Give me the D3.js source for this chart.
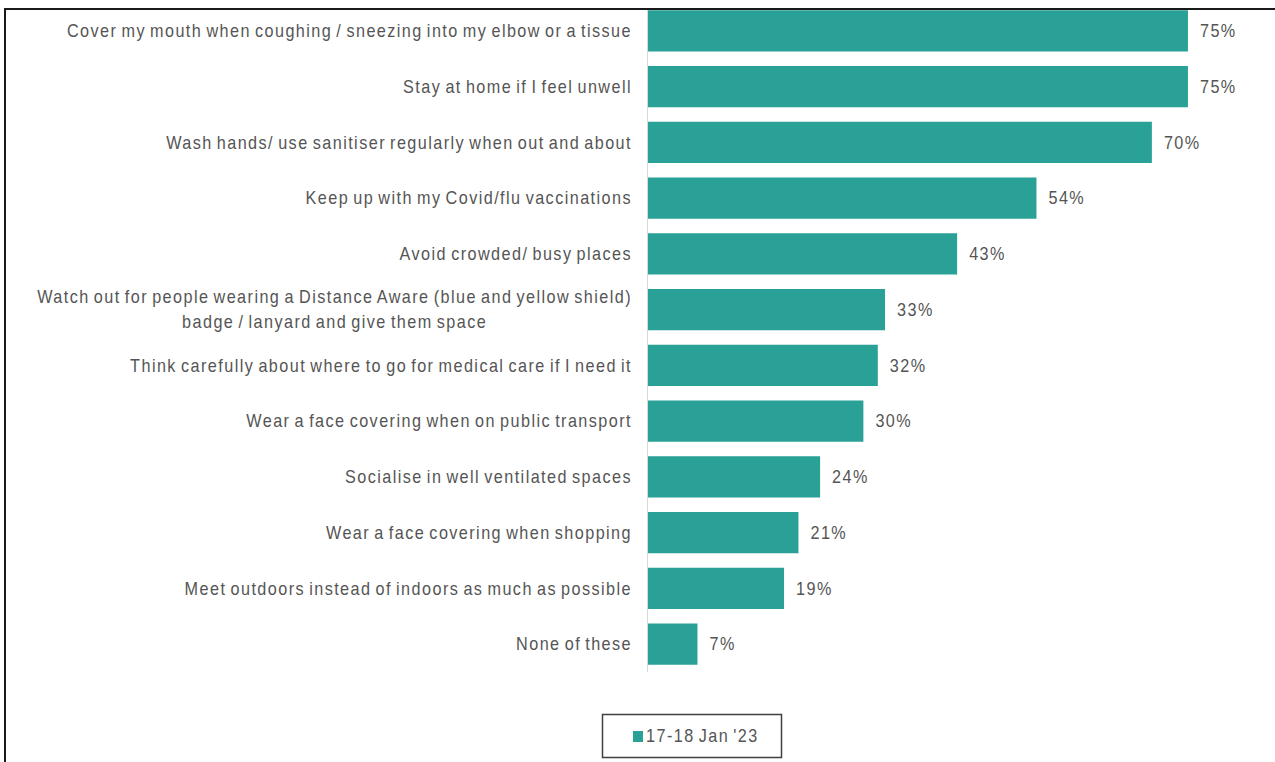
<!DOCTYPE html>
<html>
<head>
<meta charset="utf-8">
<script src="https://cdn.jsdelivr.net/npm/d3@7"></script>
<style>
  html, body { margin: 0; padding: 0; background: #fff; }
  svg { display: block; }
  text { font-family: "Liberation Sans", Arial, sans-serif; fill: #555555; }
</style>
</head>
<body>
<svg id="chart" width="1275" height="762"></svg>
<script>
// Behaviours, in descending order of share
const categories = [
  "Cover my mouth when coughing / sneezing into my elbow or a tissue",
  "Stay at home if I feel unwell",
  "Wash hands/ use sanitiser regularly when out and about",
  "Keep up with my Covid/flu vaccinations",
  "Avoid crowded/ busy places",
  "Watch out for people wearing a Distance Aware (blue and yellow shield)\nbadge / lanyard and give them space",
  "Think carefully about where to go for medical care if I need it",
  "Wear a face covering when on public transport",
  "Socialise in well ventilated spaces",
  "Wear a face covering when shopping",
  "Meet outdoors instead of indoors as much as possible",
  "None of these"
];
const values = [75, 75, 70, 54, 43, 33, 32, 30, 24, 21, 19, 7];
const seriesName = "17-18 Jan '23";

const W = 1275, H = 762;
const frame = { left: 5, top: 9 };
const plot = { left: 647, right: 1224, top: 3, bottom: 672 };
const barColor = "#2aa197";
const fontSize = 18;
const narrow = 0.9;       // horizontal squeeze for a condensed look
const tracking = 1.6;     // letter spacing, in unsqueezed units
const wordGap = -2;       // tighter word spacing

const svg = d3.select("#chart");

const x = d3.scaleLinear().domain([0, 80]).range([plot.left, plot.right]);
const y = d3.scaleBand().domain(categories).range([plot.top, plot.bottom]).paddingInner(0.26).paddingOuter(0.13);

// condensed text placed at (tx, ty)
function label(parent, tx, ty, anchor, str) {
  return parent.append("text")
    .attr("transform", `translate(${tx},${ty}) scale(${narrow},1)`)
    .attr("text-anchor", anchor)
    .attr("dy", "0.35em")
    .attr("font-size", fontSize)
    .attr("letter-spacing", tracking)
    .attr("word-spacing", wordGap)
    .text(str);
}

// clip everything drawn inside the frame
svg.append("clipPath").attr("id", "frameClip")
  .append("rect").attr("x", frame.left).attr("y", frame.top).attr("width", W).attr("height", H);

const g = svg.append("g").attr("clip-path", "url(#frameClip)");

// bars
g.selectAll("rect.bar").data(values).join("rect")
  .attr("class", "bar")
  .attr("x", x(0))
  .attr("y", (d, i) => y(categories[i]))
  .attr("width", d => x(d) - x(0))
  .attr("height", y.bandwidth())
  .attr("fill", barColor);

// category axis line
g.append("line")
  .attr("x1", plot.left + 0.5).attr("x2", plot.left + 0.5)
  .attr("y1", plot.top).attr("y2", plot.bottom)
  .attr("stroke", "#d9d9d9").attr("stroke-width", 1);

// category labels (right aligned; wrapped labels centred on each other)
const labelRight = plot.left - 15;
const lineH = 25;
categories.forEach((c, i) => {
  const lines = c.split("\n");
  const cy = y(c) + y.bandwidth() / 2;
  if (lines.length === 1) {
    label(g, labelRight, cy, "end", c);
  } else {
    const texts = lines.map((ln, k) =>
      label(g, 0, cy + (k - (lines.length - 1) / 2) * lineH, "middle", ln));
    const widest = d3.max(texts, t => t.node().getComputedTextLength()) * narrow;
    texts.forEach((t, k) => t.attr("transform",
      `translate(${labelRight - widest / 2},${cy + (k - (lines.length - 1) / 2) * lineH}) scale(${narrow},1)`));
  }
});

// value labels
values.forEach((d, i) => {
  label(g, x(d) + 12, y(categories[i]) + y.bandwidth() / 2, "start", d + "%");
});

// frame (top and left edges)
svg.append("path")
  .attr("d", `M${frame.left},${H} V${frame.top} H${W}`)
  .attr("fill", "none").attr("stroke", "#1a1a1a").attr("stroke-width", 2);

// legend
const legend = svg.append("g").attr("transform", "translate(602,714)");
legend.append("rect")
  .attr("x", 0.5).attr("y", 0.5).attr("width", 179).attr("height", 43)
  .attr("fill", "#fff").attr("stroke", "#404040").attr("stroke-width", 1.5);
legend.append("rect")
  .attr("x", 31).attr("y", 17).attr("width", 10).attr("height", 11)
  .attr("fill", barColor);
label(legend, 44, 22, "start", seriesName);
</script>
</body>
</html>
